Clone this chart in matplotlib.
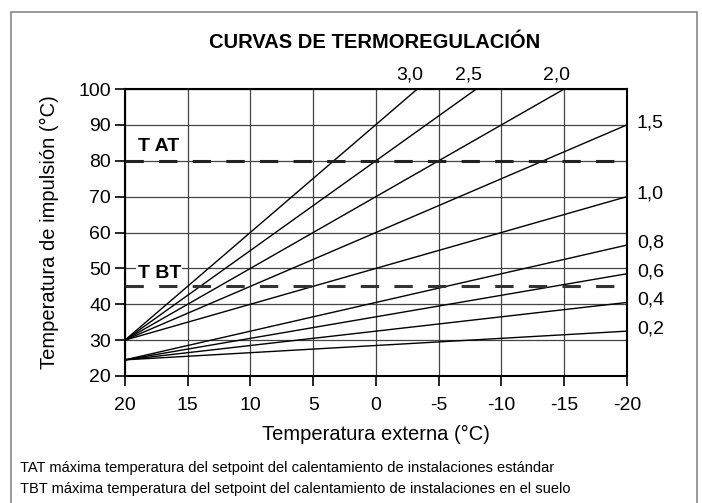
import matplotlib
matplotlib.use('Agg')
import matplotlib.pyplot as plt
from matplotlib.patches import Rectangle

plt.rcParams['font.family'] = ['Liberation Sans', 'DejaVu Sans']

# curve parameters and endpoints (straight lines)
curve_labels = ['3,0', '2,5', '2,0', '1,5', '1,0', '0,8', '0,6', '0,4', '0,2']
curve_x = [[20, -3.3], [20, -8], [20, -15], [20, -20], [20, -20],
           [20, -20], [20, -20], [20, -20], [20, -20]]
curve_y = [[30, 100], [30, 100], [30, 100], [30, 90], [30, 70],
           [24.5, 56.5], [24.5, 48.5], [24.5, 40.5], [24.5, 32.5]]

t_at = 80
t_bt = 45
x_ticks = [20, 15, 10, 5, 0, -5, -10, -15, -20]
x_ticklabels = ['20', '15', '10', '5', '0', '-5', '-10', '-15', '-20']
y_ticks = [20, 30, 40, 50, 60, 70, 80, 90, 100]

fig = plt.figure(figsize=(7.02, 5.03), dpi=100)
ax = fig.add_axes([0.178, 0.2525, 0.715, 0.5705])

# outer frame
fig.patches.append(Rectangle((11/702, -0.01), 686/702, 1 - 12/503 + 0.01,
                             transform=fig.transFigure, fill=False,
                             edgecolor='#888888', lw=1.2))

ax.set_xlim(20, -20)
ax.set_ylim(20, 100)
ax.set_xticks(x_ticks)
ax.set_xticklabels(x_ticklabels)
ax.set_yticks(y_ticks)
ax.grid(True, color='#444444', lw=0.9)
ax.tick_params(labelsize=14, length=7, width=1.2, direction='out', pad=3)
ax.tick_params(axis='x', pad=8)
for s in ax.spines.values():
    s.set_linewidth(1.5)

for xs, ys in zip(curve_x, curve_y):
    ax.plot(xs, ys, color='black', lw=1.0, clip_on=False, zorder=3)

ax.axhline(t_at, color='#222222', lw=2.2, dashes=(6, 5), zorder=4)
ax.axhline(t_bt, color='#333333', lw=2.2, dashes=(6, 5), zorder=4)
ax.text(19, t_at + 1.5, 'T AT', fontsize=14, fontweight='bold', ha='left', va='bottom', zorder=5)
ax.text(19, t_bt + 1.3, 'T BT', fontsize=14, fontweight='bold', ha='left', va='bottom', zorder=5,
        bbox=dict(facecolor='white', edgecolor='none', pad=1))

# curve labels
for lab, xs, ys in zip(curve_labels, curve_x, curve_y):
    if ys[1] >= 100:
        ax.text(xs[1] + 0.6, 101.5, lab, fontsize=14, ha='center', va='bottom')
    else:
        ax.text(-20.8, ys[1] + 0.6, lab, fontsize=14, ha='left', va='center', clip_on=False)

ax.set_xlabel('Temperatura externa (°C)', fontsize=14.5, labelpad=8)
ax.set_ylabel('Temperatura de impulsión (°C)', fontsize=14.5, labelpad=14)

fig.text(375/702, 1 - 43/503, 'CURVAS DE TERMOREGULACIÓN', fontsize=14.5, fontweight='bold',
         ha='center', va='center')
fig.text(20/702, 1 - 468/503, 'TAT máxima temperatura del setpoint del calentamiento de instalaciones estándar',
         fontsize=10.5, ha='left', va='center')
fig.text(20/702, 1 - 489/503, 'TBT máxima temperatura del setpoint del calentamiento de instalaciones en el suelo',
         fontsize=10.5, ha='left', va='center')

fig.savefig('out.png', dpi=100)
